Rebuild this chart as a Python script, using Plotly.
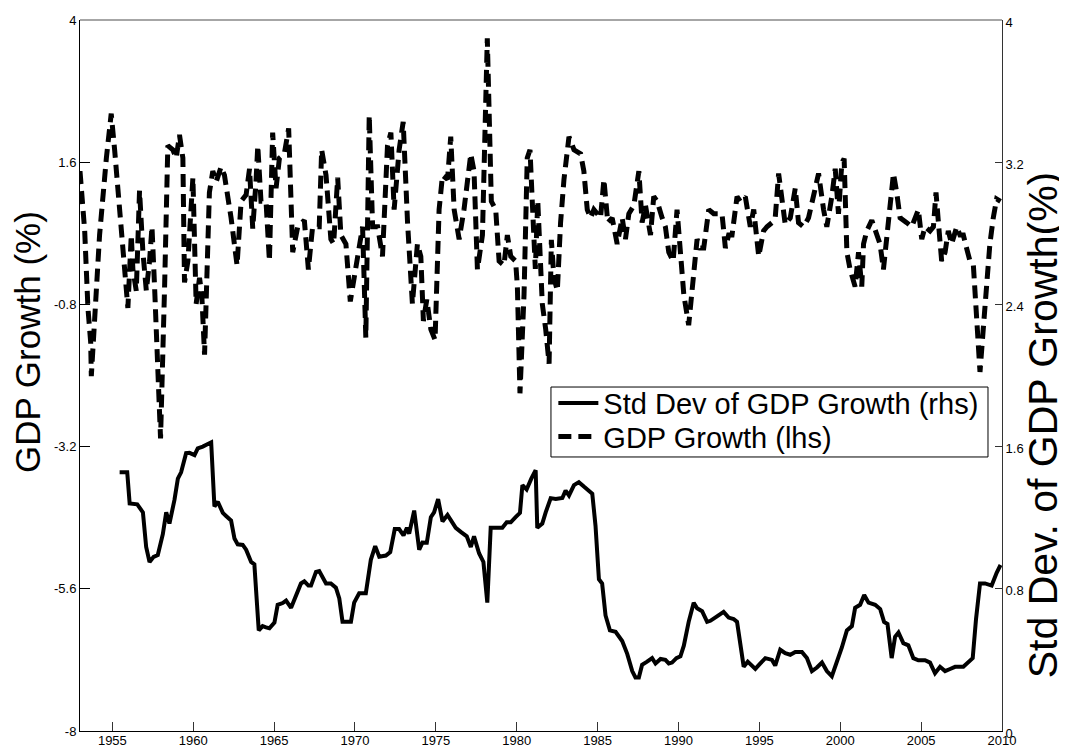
import plotly.graph_objects as go

# GDP growth (lhs)
growth_year = [
    1953.0, 1953.29, 1953.49, 1953.66, 1953.70, 1953.91, 1954.21, 1954.63, 1954.93, 1955.14,
    1955.35, 1955.65, 1955.96, 1956.17, 1956.27, 1956.48, 1956.68, 1956.89, 1957.10, 1957.30,
    1957.45, 1957.61, 1957.81, 1957.98, 1958.23, 1958.43, 1958.74, 1958.95, 1959.15, 1959.36,
    1959.46, 1959.67, 1959.98, 1960.08, 1960.18, 1960.39, 1960.53, 1960.70, 1961.00, 1961.21,
    1961.42, 1961.72, 1961.93, 1962.34, 1962.71, 1962.96, 1963.27, 1963.48, 1963.68, 1963.88,
    1963.99, 1964.19, 1964.50, 1964.71, 1964.91, 1965.12, 1965.33, 1965.63, 1965.90, 1966.15,
    1966.46, 1966.87, 1967.12, 1967.38, 1967.79, 1967.94, 1968.21, 1968.51, 1968.68, 1968.93,
    1969.13, 1969.44, 1969.71, 1969.95, 1970.26, 1970.47, 1970.67, 1970.88, 1971.09, 1971.40,
    1971.70, 1972.01, 1972.22, 1972.42, 1972.73, 1972.98, 1973.25, 1973.55, 1973.86, 1974.07,
    1974.23, 1974.44, 1974.69, 1974.95, 1975.20, 1975.41, 1975.72, 1975.92, 1976.13, 1976.44,
    1976.74, 1977.16, 1977.36, 1977.57, 1977.88, 1978.18, 1978.43, 1978.70, 1978.91, 1979.21,
    1979.42, 1979.63, 1979.93, 1980.04, 1980.20, 1980.45, 1980.65, 1980.82, 1980.96, 1981.15,
    1981.30, 1981.44, 1981.58, 1981.79, 1982.00, 1982.14, 1982.30, 1982.51, 1982.71, 1982.92,
    1983.23, 1983.54, 1983.95, 1984.15, 1984.36, 1984.56, 1984.77, 1984.98, 1985.18, 1985.39,
    1985.63, 1985.90, 1986.21, 1986.52, 1986.72, 1986.93, 1987.24, 1987.55, 1987.75, 1987.96,
    1988.27, 1988.47, 1988.68, 1988.99, 1989.19, 1989.40, 1989.67, 1989.91, 1990.12, 1990.33,
    1990.63, 1990.84, 1991.15, 1991.35, 1991.56, 1991.87, 1992.18, 1992.69, 1992.90, 1993.10,
    1993.31, 1993.62, 1993.82, 1994.13, 1994.44, 1994.65, 1994.96, 1995.26, 1995.47, 1995.78,
    1995.98, 1996.19, 1996.40, 1996.60, 1996.91, 1997.22, 1997.42, 1997.73, 1998.04, 1998.35,
    1998.66, 1998.97, 1999.17, 1999.48, 1999.69, 1999.89, 2000.10, 2000.24, 2000.41, 2000.61,
    2000.92, 2001.13, 2001.33, 2001.44, 2001.64, 2001.95, 2002.26, 2002.46, 2002.67, 2002.98,
    2003.29, 2003.49, 2003.70, 2004.11, 2004.42, 2004.83, 2005.04, 2005.24, 2005.55, 2005.76,
    2005.92, 2006.07, 2006.27, 2006.48, 2006.68, 2006.89, 2007.20, 2007.40, 2007.61, 2007.81,
    2008.02, 2008.23, 2008.43, 2008.64, 2008.84, 2009.05, 2009.25, 2009.46, 2009.67, 2009.91,
]
growth = [
    1.45, 0.44, -0.86, -1.44, -2.01, -1.08, 0.37, 1.67, 2.42, 1.81,
    1.09, 0.22, -0.86, 0.37, -0.21, -0.57, 1.12, 0.08, -0.57, -0.07,
    0.51, -0.50, -1.94, -3.06, -0.50, 1.88, 1.81, 1.67, 2.06, 1.67,
    -0.43, -0.07, 1.34, 0.22, -0.79, -0.35, -0.64, -1.65, 1.09, 1.45,
    1.27, 1.52, 1.38, 0.66, -0.14, 0.94, 1.05, 1.49, 0.48, 1.27,
    1.88, 0.94, 0.94, -0.07, 2.10, 1.16, 1.67, 1.74, 2.17, 0.08,
    0.51, 0.62, -0.21, 0.51, 0.51, 1.81, 1.38, 0.30, 0.22, 1.34,
    0.37, 0.22, -0.75, -0.35, 0.22, 0.51, -1.36, 2.39, 0.51, 0.51,
    0.01, 1.88, 2.10, 0.80, 1.81, 2.28, 0.58, -0.79, 0.22, 0.01,
    -1.08, -0.72, -1.22, -1.40, 0.80, 1.38, 1.31, 2.03, 0.80, 0.30,
    0.80, 1.74, 1.45, -0.21, 0.37, 3.69, 0.94, 0.80, -0.07, -0.14,
    0.37, 0.01, -0.07, -0.50, -2.30, -0.64, 1.67, 1.81, 0.94, -0.20,
    0.95, 0.22, -0.79, -1.22, -1.80, 0.29, -0.35, -0.57, 0.58, 1.31,
    2.03, 1.81, 1.74, 1.45, 0.80, 0.66, 0.80, 0.73, 0.66, 1.31,
    0.58, 0.66, 0.22, 0.66, 0.30, 0.73, 0.87, 1.45, 0.58, 0.87,
    0.37, 1.02, 0.94, 0.66, 0.51, 0.08, -0.07, 0.80, 0.08, -0.64,
    -1.15, -0.64, 0.30, 0.15, 0.15, 0.80, 0.73, 0.73, 0.15, 0.37,
    0.37, 1.02, 0.94, 1.02, 0.51, 0.80, 0.01, 0.44, 0.51, 0.58,
    0.66, 1.41, 0.87, 0.55, 0.66, 1.16, 0.58, 0.51, 0.66, 1.02,
    1.41, 0.80, 0.51, 1.02, 1.49, 0.73, 1.59, 1.66, 0.08, -0.21,
    -0.50, 0.08, -0.50, 0.22, 0.44, 0.62, 0.37, 0.22, -0.21, 0.66,
    1.41, 1.09, 0.66, 0.58, 0.51, 0.80, 0.30, 0.51, 0.44, 0.51,
    1.09, 0.58, -0.07, 0.08, 0.44, 0.22, 0.51, 0.37, 0.37, 0.15,
    -0.07, -0.14, -1.07, -1.94, -1.22, -0.35, 0.22, 0.66, 0.98, 0.94,
]

# Std dev of GDP growth (rhs)
sd_year = [
    1955.45, 1955.92, 1956.07, 1956.54, 1956.89, 1957.09, 1957.30, 1957.55, 1957.81, 1958.12,
    1958.33, 1958.53, 1958.84, 1959.05, 1959.25, 1959.56, 1959.77, 1960.08, 1960.28, 1960.59,
    1961.11, 1961.31, 1961.52, 1961.83, 1962.03, 1962.34, 1962.55, 1962.75, 1963.06, 1963.27,
    1963.58, 1963.78, 1964.05, 1964.29, 1964.50, 1964.71, 1965.02, 1965.22, 1965.53, 1965.74,
    1966.05, 1966.36, 1966.66, 1966.87, 1967.12, 1967.28, 1967.59, 1967.79, 1968.21, 1968.51,
    1968.82, 1969.03, 1969.23, 1969.75, 1969.95, 1970.26, 1970.67, 1970.98, 1971.25, 1971.50,
    1971.91, 1972.18, 1972.46, 1972.73, 1973.00, 1973.21, 1973.35, 1973.66, 1973.97, 1974.17,
    1974.44, 1974.69, 1974.89, 1975.14, 1975.41, 1975.72, 1975.92, 1976.23, 1976.54, 1976.91,
    1977.16, 1977.36, 1977.67, 1977.94, 1978.18, 1978.39, 1978.80, 1979.11, 1979.38, 1979.63,
    1979.93, 1980.20, 1980.35, 1980.61, 1980.90, 1981.17, 1981.27, 1981.58, 1981.79, 1982.10,
    1982.41, 1982.82, 1983.02, 1983.23, 1983.54, 1983.84, 1984.15, 1984.46, 1984.67, 1984.87,
    1985.08, 1985.28, 1985.49, 1985.76, 1986.11, 1986.52, 1986.83, 1987.14, 1987.34, 1987.55,
    1987.75, 1988.06, 1988.37, 1988.58, 1988.89, 1989.19, 1989.40, 1989.60, 1989.87, 1990.12,
    1990.33, 1990.63, 1990.94, 1991.15, 1991.46, 1991.77, 1991.97, 1992.38, 1992.79, 1993.10,
    1993.41, 1993.62, 1993.82, 1994.03, 1994.28, 1994.54, 1994.75, 1995.06, 1995.37, 1995.78,
    1995.98, 1996.29, 1996.60, 1996.91, 1997.22, 1997.63, 1997.94, 1998.25, 1998.56, 1998.87,
    1999.17, 1999.48, 1999.79, 2000.10, 2000.41, 2000.72, 2000.92, 2001.23, 2001.48, 2001.75,
    2002.16, 2002.47, 2002.71, 2002.92, 2003.18, 2003.39, 2003.60, 2003.90, 2004.21, 2004.52,
    2004.83, 2005.24, 2005.55, 2005.86, 2006.17, 2006.48, 2006.79, 2007.10, 2007.61, 2007.92,
    2008.19, 2008.39, 2008.64, 2008.95, 2009.36, 2009.67, 2009.91,
]
sd = [
    1.455, 1.455, 1.28, 1.275, 1.23, 1.035, 0.95, 0.98, 0.99, 1.107,
    1.23, 1.167, 1.30, 1.42, 1.455, 1.563, 1.565, 1.552, 1.59, 1.60,
    1.624, 1.263, 1.29, 1.227, 1.21, 1.184, 1.083, 1.05, 1.047, 1.02,
    0.951, 0.938, 0.566, 0.59, 0.583, 0.578, 0.61, 0.71, 0.72, 0.734,
    0.693, 0.77, 0.83, 0.842, 0.818, 0.818, 0.895, 0.90, 0.83, 0.83,
    0.806, 0.746, 0.614, 0.614, 0.722, 0.775, 0.775, 0.963, 1.04, 0.98,
    0.987, 1.006, 1.136, 1.136, 1.10, 1.143, 1.11, 1.24, 1.02, 1.06,
    1.059, 1.203, 1.23, 1.304, 1.179, 1.215, 1.19, 1.143, 1.12, 1.095,
    1.035, 1.095, 1.00, 0.951, 0.722, 1.143, 1.143, 1.143, 1.174, 1.174,
    1.203, 1.227, 1.383, 1.359, 1.42, 1.467, 1.143, 1.167, 1.23, 1.31,
    1.305, 1.311, 1.352, 1.325, 1.383, 1.40, 1.375, 1.347, 1.335, 1.155,
    0.854, 0.83, 0.65, 0.566, 0.558, 0.506, 0.434, 0.337, 0.301, 0.301,
    0.373, 0.39, 0.41, 0.38, 0.405, 0.40, 0.38, 0.385, 0.41, 0.42,
    0.48, 0.614, 0.722, 0.69, 0.674, 0.614, 0.62, 0.645, 0.67, 0.638,
    0.63, 0.614, 0.506, 0.362, 0.39, 0.365, 0.349, 0.38, 0.41, 0.40,
    0.368, 0.457, 0.438, 0.429, 0.445, 0.445, 0.41, 0.337, 0.357, 0.385,
    0.337, 0.308, 0.385, 0.47, 0.566, 0.59, 0.693, 0.71, 0.765, 0.722,
    0.71, 0.686, 0.614, 0.602, 0.41, 0.53, 0.554, 0.494, 0.482, 0.41,
    0.398, 0.398, 0.385, 0.325, 0.361, 0.337, 0.349, 0.361, 0.361, 0.39,
    0.41, 0.626, 0.83, 0.83, 0.818, 0.89, 0.934,
]

x_ticks = [1955, 1960, 1965, 1970, 1975, 1980, 1985, 1990, 1995, 2000, 2005, 2010]
lhs_ticks = [-8, -5.6, -3.2, -0.8, 1.6, 4]
rhs_ticks = [0, 0.8, 1.6, 2.4, 3.2, 4]

font = "Liberation Sans, Arial, sans-serif"

fig = go.Figure()

fig.add_trace(go.Scatter(
    x=sd_year, y=sd, name="Std Dev of GDP Growth (rhs)",
    mode="lines", line=dict(color="black", width=4),
    yaxis="y2", legend="legend",
))
fig.add_trace(go.Scatter(
    x=growth_year, y=growth, name="GDP Growth (lhs)",
    mode="lines", line=dict(color="black", width=5, dash="13px,7px"),
    legend="legend2",
))

# one legend per row so the rows sit as tight as in the original box
row = dict(xanchor="left", yanchor="middle", bgcolor="rgba(0,0,0,0)",
           borderwidth=0, font=dict(size=29), itemwidth=40)

fig.update_layout(
    # the page adds an 8px body margin, so the figure is 8px smaller
    width=1059, height=739,
    margin=dict(l=72, r=65, t=12, b=16, autoexpand=False),
    paper_bgcolor="white", plot_bgcolor="white",
    font=dict(family=font, color="black", size=13),
    showlegend=True,
    legend=dict(x=0.5134, y=0.4610, **row),
    legend2=dict(x=0.5134, y=0.4140, **row),
    xaxis=dict(
        range=[1953, 2010], tickvals=x_ticks, ticktext=[str(t) for t in x_ticks],
        ticks="inside", ticklen=9, tickcolor="#333", showgrid=False, zeroline=False,
        showline=True, linecolor="black", linewidth=1, automargin=False,
        ticklabelstandoff=-3,
    ),
    yaxis=dict(
        range=[-8, 4], tickvals=lhs_ticks, ticktext=[str(t) for t in lhs_ticks],
        ticks="inside", ticklen=10, tickcolor="black", showgrid=False, zeroline=False,
        showline=True, linecolor="black", linewidth=1, automargin=False,
    ),
    yaxis2=dict(
        range=[0, 4], tickvals=rhs_ticks, ticktext=[str(t) for t in rhs_ticks],
        overlaying="y", side="right",
        ticks="inside", ticklen=7, tickcolor="#333", showgrid=False, zeroline=False,
        showline=True, linecolor="#333", linewidth=1, automargin=False,
        ticklabelshift=2,
    ),
    shapes=[
        dict(type="line", xref="paper", yref="paper", x0=0, x1=1, y0=1, y1=1,
             line=dict(color="#888", width=1.5)),
        # legend frame
        dict(type="rect", xref="paper", yref="paper", layer="above",
             x0=0.5108, x1=0.9848, y0=0.3854, y1=0.4838,
             fillcolor="white", line=dict(color="black", width=1)),
    ],
    annotations=[
        dict(text="GDP Growth (%)", xref="paper", yref="paper", x=-0.0575, y=0.547,
             xanchor="center", yanchor="middle",
             textangle=-90, showarrow=False, font=dict(size=35)),
        dict(text="Std Dev. of GDP Growth(%)", xref="paper", yref="paper", x=1.0445, y=0.43,
             xanchor="center", yanchor="middle",
             textangle=-90, showarrow=False, font=dict(size=41)),
    ],
)

fig.write_html("out.html")
